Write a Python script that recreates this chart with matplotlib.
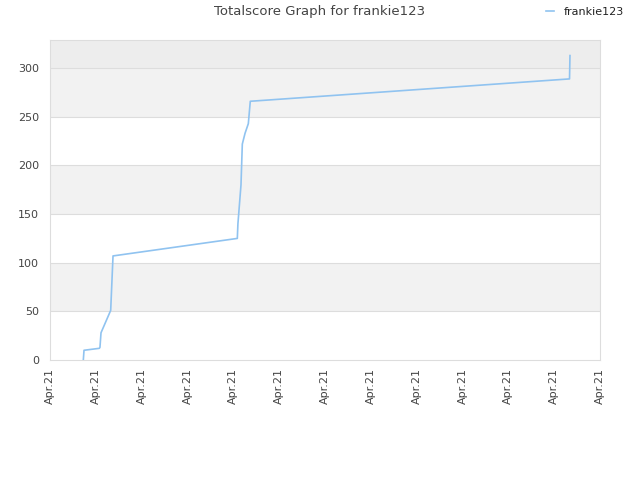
import matplotlib
matplotlib.use("Agg")
import matplotlib.pyplot as plt

# x positions in tick-interval units (0..12), scores
x_pos = [0.727, 0.742, 1.076, 1.09, 1.113, 1.324, 1.375, 4.087, 4.10, 4.167,
         4.196, 4.255, 4.327, 4.37, 11.335, 11.345]
scores = [0, 10, 12, 13, 28, 51, 107, 125, 140, 180,
          222, 233, 243, 266, 289, 313]
tick_labels = ["Apr.21"] * 13
series_name = "frankie123"

fig = plt.figure(figsize=(6.4, 4.8), dpi=100)
ax = fig.add_axes([50/640, 120/480, 550/640, 320/480])

ymax = 329
ax.set_xlim(0, 12)
ax.set_ylim(0, ymax)

# background bands
bands = [(50, 100, "#f2f2f2"), (150, 200, "#f2f2f2"), (250, 300, "#f2f2f2"), (300, ymax, "#ededed")]
for lo, hi, c in bands:
    ax.axhspan(lo, hi, color=c, zorder=0, lw=0)
for yv in [50, 100, 150, 200, 250, 300]:
    ax.axhline(yv, color="#dddddd", lw=0.8, zorder=1)

ax.plot(x_pos, scores, color="#90c3f0", lw=1.2, zorder=3, label=series_name)

ax.set_xticks(range(13))
ax.set_xticklabels(tick_labels, rotation=90, fontsize=8, color="#444444")
ax.set_yticks([0, 50, 100, 150, 200, 250, 300])
ax.tick_params(axis="y", labelsize=8, colors="#444444", length=0, pad=8)
ax.tick_params(axis="x", length=0, pad=6)
for s in ax.spines.values():
    s.set_color("#dddddd")
    s.set_linewidth(0.8)

fig.text(0.5, 0.99, "Totalscore Graph for frankie123", ha="center", va="top",
         fontsize=9.5, color="#444444")
leg = fig.legend(loc="upper right", bbox_to_anchor=(0.99, 1.006), frameon=False,
                 fontsize=8, handlelength=0.8, handletextpad=0.8)
for t in leg.get_texts():
    t.set_color("#222222")

fig.savefig("out.png", dpi=100)
